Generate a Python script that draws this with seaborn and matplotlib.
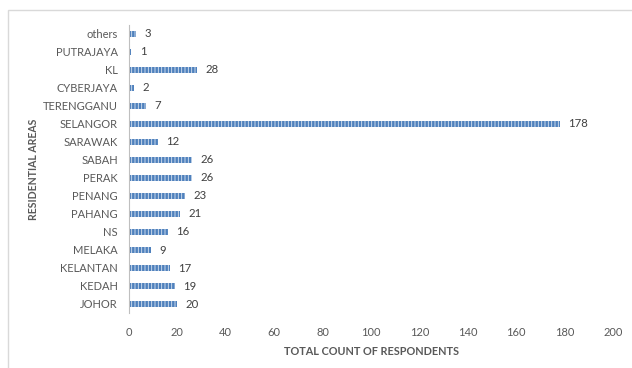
import matplotlib
matplotlib.use("Agg")
import matplotlib.pyplot as plt
import seaborn as sns
import pandas as pd
from matplotlib.patches import Rectangle

# Residential areas, listed top to bottom as drawn
areas = ["others", "PUTRAJAYA", "KL", "CYBERJAYA", "TERENGGANU", "SELANGOR",
         "SARAWAK", "SABAH", "PERAK", "PENANG", "PAHANG", "NS", "MELAKA",
         "KELANTAN", "KEDAH", "JOHOR"]
counts = [3, 1, 28, 2, 7, 178, 12, 26, 26, 23, 21, 16, 9, 17, 19, 20]
x_ticks = [0, 20, 40, 60, 80, 100, 120, 140, 160, 180, 200]

df = pd.DataFrame({"area": areas, "count": counts})

sns.set_theme(style="white")
plt.rcParams["font.family"] = ["Lato", "DejaVu Sans"]
plt.rcParams["hatch.linewidth"] = 0.6
plt.rcParams["hatch.color"] = "#dce6f2"

text_grey = "#595959"
fig = plt.figure(figsize=(6.32, 3.68), dpi=100)
ax = fig.add_axes([129 / 632, 1 - 313 / 368, 484 / 632, 288 / 368])

sns.barplot(data=df, x="count", y="area", orient="h", color="#4f81bd",
            width=0.3, saturation=1, ax=ax, linewidth=0,
            edgecolor="#dce6f2", hatch="|||||")

for c in ax.containers:
    ax.bar_label(c, padding=6, fontsize=8.2, color="#404040")

ax.set_xlim(0, 200)
ax.set_xticks(x_ticks)
ax.set_xlabel("TOTAL COUNT OF RESPONDENTS", fontsize=7.8, fontweight="bold",
              color=text_grey, labelpad=6)
ax.set_ylabel("RESIDENTIAL AREAS", fontsize=7.6, fontweight="bold",
              color=text_grey, labelpad=3)
ax.tick_params(axis="x", length=0, pad=10, labelsize=8, labelcolor=text_grey)
ax.tick_params(axis="y", length=0, pad=8, labelsize=8, labelcolor=text_grey)

for side in ["top", "right", "bottom"]:
    ax.spines[side].set_visible(False)
ax.spines["left"].set_color("#bfbfbf")
ax.spines["left"].set_linewidth(0.8)
ax.grid(False)

# Chart area border
fig.patches.append(Rectangle((8 / 632, -0.2), 1.2, 0.2 + 1 - 10 / 368,
                             transform=fig.transFigure, fill=False,
                             edgecolor="#d9d9d9", linewidth=1.0))

fig.savefig("out.png", dpi=100)
